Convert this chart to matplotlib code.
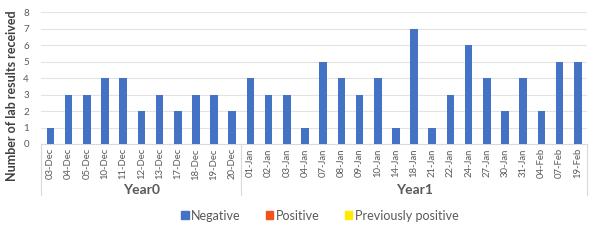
import matplotlib.pyplot as plt
from matplotlib.patches import Patch
import matplotlib.transforms as mtransforms

plt.rcParams['font.family'] = ['Lato', 'DejaVu Sans']

# data
dates_year0 = ['03-Dec', '04-Dec', '05-Dec', '10-Dec', '11-Dec', '12-Dec', '13-Dec',
               '17-Dec', '18-Dec', '19-Dec', '20-Dec']
neg_year0 = [1, 3, 3, 4, 4, 2, 3, 2, 3, 3, 2]
dates_year1 = ['01-Jan', '02-Jan', '03-Jan', '04-Jan', '07-Jan', '08-Jan', '09-Jan',
               '10-Jan', '14-Jan', '18-Jan', '21-Jan', '22-Jan', '24-Jan', '27-Jan',
               '30-Jan', '31-Jan', '04-Feb', '07-Feb', '19-Feb']
neg_year1 = [4, 3, 3, 1, 5, 4, 3, 4, 1, 7, 1, 3, 6, 4, 2, 4, 2, 5, 5]
groups = ['Year0', 'Year1']
series = ['Negative', 'Positive', 'Previously positive']
colors = ['#4472C4', '#F4511E', '#FFEB00']

labels = dates_year0 + dates_year1
negative = neg_year0 + neg_year1
positive = [0] * len(labels)
prev_positive = [0] * len(labels)

fig = plt.figure(figsize=(6, 2.42), dpi=100)
ax = fig.add_axes([0.069, 0.405, 0.909, 0.545])

x = list(range(len(labels)))
ax.bar(x, negative, width=0.42, color=colors[0], zorder=3)
ax.bar(x, positive, width=0.42, bottom=negative, color=colors[1], zorder=3)
ax.bar(x, prev_positive, width=0.42,
       bottom=[a + b for a, b in zip(negative, positive)], color=colors[2], zorder=3)

ax.set_xlim(-0.5, len(labels) - 0.5)
ax.set_ylim(0, 8)
ax.set_yticks(range(0, 9))
ax.grid(axis='y', color='#E3E3E3', linewidth=0.8, zorder=0)
for s in ['top', 'right', 'left']:
    ax.spines[s].set_visible(False)
ax.spines['bottom'].set_color('#D9D9D9')
ax.tick_params(axis='y', length=0, labelsize=7, labelcolor='#595959', pad=9)
ax.tick_params(axis='x', length=0, labelsize=6.8, labelcolor='#595959', pad=3)
ax.set_xticks(x)
ax.set_xticklabels(labels, rotation=90)

ax.set_ylabel('Number of lab results received', fontsize=9, fontweight='bold',
              color='#404040')
ax.yaxis.set_label_coords(-0.043, 0.37)

# group separators and labels
trans = mtransforms.blended_transform_factory(ax.transData, ax.transAxes)
n0 = len(dates_year0)
for xs in [-0.5, n0 - 0.5, len(labels) - 0.5]:
    ax.plot([xs, xs], [0, -0.39], transform=trans, color='#D9D9D9',
            linewidth=0.8, clip_on=False)
ax.text((n0 - 1) / 2, -0.35, groups[0], transform=trans, ha='center', va='center',
        fontsize=10, fontweight='bold', color='#595959')
ax.text(n0 + (len(dates_year1) - 1) / 2, -0.35, groups[1], transform=trans,
        ha='center', va='center', fontsize=10, fontweight='bold', color='#595959')

handles = [Patch(color=c, label=s) for c, s in zip(colors, series)]
fig.legend(handles=handles, loc='center', bbox_to_anchor=(0.533, 0.108), ncol=3,
           frameon=False, fontsize=9, handlelength=0.6, handleheight=0.6,
           handletextpad=0.2, columnspacing=2.0, labelcolor='#595959')

fig.savefig('out.png', dpi=100)
